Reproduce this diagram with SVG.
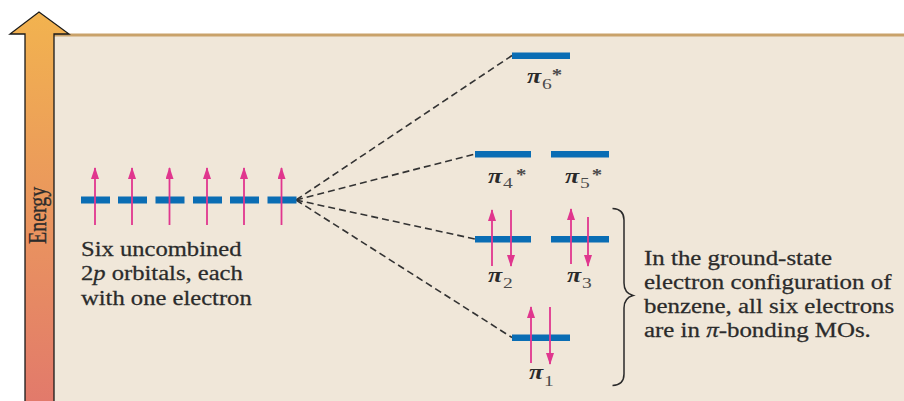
<svg xmlns="http://www.w3.org/2000/svg" width="904" height="401" viewBox="0 0 904 401">
<defs>
<linearGradient id="eg" x1="0" y1="0" x2="0" y2="1">
<stop offset="0" stop-color="#F2B34F"/>
<stop offset="1" stop-color="#E27A6B"/>
</linearGradient>
<marker id="ah" markerUnits="userSpaceOnUse" markerWidth="12" markerHeight="10" refX="11" refY="4" orient="auto">
<path d="M0,0 L12,4 L0,8 Z" fill="#E0368E"/>
</marker>
<style>
.bar{fill:#0A6DB4}
.e{stroke:#E0368E;stroke-width:1.8;fill:none;marker-end:url(#ah)}
.dash{stroke:#333;stroke-width:1.6;stroke-dasharray:7 4;fill:none}
.t{font-family:"Liberation Serif","Times New Roman",serif;font-size:20px;fill:#2b2b2b;stroke:#2b2b2b;stroke-width:0.25}
.pi{font-family:"Liberation Serif","Times New Roman",serif;font-style:italic;font-weight:bold;font-size:20px;fill:#2a2a2a}
.sub{font-family:"Liberation Serif","Times New Roman",serif;font-size:15px;fill:#4a4a4a}
.ast{font-family:"Liberation Serif","Times New Roman",serif;font-size:16px;font-weight:bold;fill:#4a4a4a}
</style>
</defs>
<rect x="0" y="0" width="904" height="401" fill="#FFFFFF"/>
<g id="panel">
<rect x="54" y="35" width="850" height="366" fill="#F0E7D9"/>
<rect x="54" y="33.5" width="850" height="3" fill="#C9A26A"/>
</g>
<g id="energy-axis">
<path d="M25,401 L25,34 L10,34 L39,12 L69,34 L54,34 L54,401" fill="url(#eg)" stroke="#1a1a1a" stroke-width="1.3"/>
<text class="t" transform="translate(45.5,244) scale(1.24,1) rotate(-90)">Energy</text>
</g>
<g id="connectors">
<line class="dash" x1="296" y1="200" x2="512" y2="55.5"/>
<line class="dash" x1="296" y1="200" x2="475" y2="154"/>
<line class="dash" x1="296" y1="200" x2="475" y2="239"/>
<line class="dash" x1="296" y1="200" x2="512" y2="337.5"/>
</g>
<g id="atomic-orbitals">
<g id="p1"><rect class="bar" x="81" y="196.5" width="29" height="7"/><line class="e" x1="95" y1="225" x2="95" y2="168"/></g>
<g id="p2"><rect class="bar" x="118" y="196.5" width="29" height="7"/><line class="e" x1="132" y1="225" x2="132" y2="168"/></g>
<g id="p3"><rect class="bar" x="155.5" y="196.5" width="29" height="7"/><line class="e" x1="169.5" y1="225" x2="169.5" y2="168"/></g>
<g id="p4"><rect class="bar" x="193" y="196.5" width="29" height="7"/><line class="e" x1="207" y1="225" x2="207" y2="168"/></g>
<g id="p5"><rect class="bar" x="230" y="196.5" width="29" height="7"/><line class="e" x1="244" y1="225" x2="244" y2="168"/></g>
<g id="p6"><rect class="bar" x="267.5" y="196.5" width="29" height="7"/><line class="e" x1="281.5" y1="225" x2="281.5" y2="168"/></g>
</g>
<g id="left-label" transform="translate(81,0) scale(1.23,1)">
<text class="t" x="0" y="256">Six uncombined</text>
<text class="t" x="0" y="280.5">2<tspan font-style="italic">p</tspan> orbitals, each</text>
<text class="t" x="0" y="305">with one electron</text>
</g>
<g id="pi6">
<rect class="bar" x="512" y="52.5" width="58" height="6.5"/>
<g transform="translate(527,83) scale(1.3,1)"><text class="pi">π</text><text class="sub" x="11.5" y="6">6</text><text class="ast" x="19" y="-3">*</text></g>
</g>
<g id="pi4">
<rect class="bar" x="475" y="151" width="56" height="6.5"/>
<g transform="translate(488,183) scale(1.3,1)"><text class="pi">π</text><text class="sub" x="11.5" y="5">4</text><text class="ast" x="21.5" y="-3">*</text></g>
</g>
<g id="pi5">
<rect class="bar" x="551" y="151" width="58" height="6.5"/>
<g transform="translate(565,183) scale(1.3,1)"><text class="pi">π</text><text class="sub" x="11.5" y="5">5</text><text class="ast" x="20.5" y="-3">*</text></g>
</g>
<g id="pi2">
<rect class="bar" x="475" y="236" width="56" height="6.5"/>
<line class="e" x1="492" y1="266" x2="492" y2="210"/>
<line class="e" x1="511" y1="210" x2="511" y2="266"/>
<g transform="translate(488,282) scale(1.3,1)"><text class="pi">π</text><text class="sub" x="11.5" y="6">2</text></g>
</g>
<g id="pi3">
<rect class="bar" x="551" y="236" width="58" height="6.5"/>
<line class="e" x1="571" y1="264" x2="571" y2="209"/>
<line class="e" x1="588" y1="217" x2="588" y2="266"/>
<g transform="translate(567,282) scale(1.3,1)"><text class="pi">π</text><text class="sub" x="11.5" y="6">3</text></g>
</g>
<g id="pi1">
<rect class="bar" x="512" y="334.5" width="58" height="6.5"/>
<line class="e" x1="531" y1="363" x2="531" y2="307"/>
<line class="e" x1="550" y1="307" x2="550" y2="364"/>
<g transform="translate(529,379) scale(1.3,1)"><text class="pi">π</text><text class="sub" x="11.5" y="7">1</text></g>
</g>
<g id="brace">
<path d="M612.5,208.5 Q624,209 624,220 L624,283 Q624,293 633,295.5 Q624,298 624,308 L624,374 Q624,385 612.5,385.5" fill="none" stroke="#2a2a2a" stroke-width="1.5"/>
</g>
<g id="right-label" transform="translate(644,0) scale(1.245,1)">
<text class="t" x="0" y="265">In the ground-state</text>
<text class="t" x="0" y="289">electron configuration of</text>
<text class="t" x="0" y="313">benzene, all six electrons</text>
<text class="t" x="0" y="337">are in <tspan font-style="italic">π</tspan>-bonding MOs.</text>
</g>
</svg>
